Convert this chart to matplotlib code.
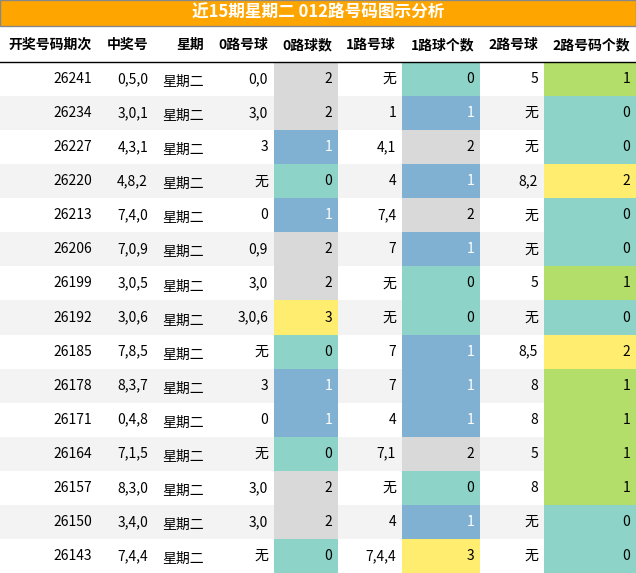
import matplotlib
matplotlib.use("Agg")
import matplotlib.pyplot as plt
from matplotlib.patches import Rectangle

plt.rcParams['font.family'] = ['Noto Sans CJK SC', 'DejaVu Sans']

title = "近15期星期二 012路号码图示分析"
headers = ["开奖号码期次", "中奖号", "星期", "0路号球", "0路球数", "1路号球", "1路球个数", "2路号球", "2路号码个数"]
periods = ["26241","26234","26227","26220","26213","26206","26199","26192","26185","26178","26171","26164","26157","26150","26143"]
numbers = ["0,5,0","3,0,1","4,3,1","4,8,2","7,4,0","7,0,9","3,0,5","3,0,6","7,8,5","8,3,7","0,4,8","7,1,5","8,3,0","3,4,0","7,4,4"]
weekday = ["星期二"] * 15
r0_balls = ["0,0","3,0","3","无","0","0,9","3,0","3,0,6","无","3","0","无","3,0","3,0","无"]
r0_cnt = [2,2,1,0,1,2,2,3,0,1,1,0,2,2,0]
r1_balls = ["无","1","4,1","4","7,4","7","无","无","7","7","4","7,1","无","4","7,4,4"]
r1_cnt = [0,1,2,1,2,1,0,0,1,1,1,2,0,1,3]
r2_balls = ["5","无","无","8,2","无","无","5","无","8,5","8","8","5","8","无","无"]
r2_cnt = [1,0,0,2,0,0,1,0,2,1,1,1,1,0,0]

cmap01 = {0: "#8DD3C7", 1: "#80B1D3", 2: "#D9D9D9", 3: "#FFED6F"}
cmap2 = {0: "#8DD3C7", 1: "#B3DE69", 2: "#FFED6F", 3: "#FFED6F"}

W, H = 636, 573
fig = plt.figure(figsize=(W/100, H/100), dpi=100)
ax = fig.add_axes([0, 0, 1, 1])
ax.set_xlim(0, W); ax.set_ylim(H, 0); ax.axis('off')

edges = [0, 98, 154, 210, 274, 338, 402, 480, 544, 636]
ax.add_patch(Rectangle((0, 0), W, 26, facecolor="#FFA500", edgecolor="#888888", lw=1))
ax.text(W/2, 13, title, ha='center', va='center', color='white', fontsize=12, fontweight='bold')

hy = 45
for i, h in enumerate(headers):
    if i == 0:
        ax.text(8, hy, h, ha='left', va='center', fontsize=10, fontweight='bold')
    else:
        ax.text(edges[i+1]-6, hy, h, ha='right', va='center', fontsize=10, fontweight='bold')
ax.plot([0, W], [62, 62], color='black', lw=1)

top = 62
rh = (H - top) / 15
for r in range(15):
    y0 = top + r*rh
    yc = y0 + rh/2
    bg = "white" if r % 2 == 0 else "#F3F3F3"
    ax.add_patch(Rectangle((0, y0), W, rh, facecolor=bg, edgecolor='none'))
    vals = [periods[r], numbers[r], weekday[r], r0_balls[r], r0_cnt[r], r1_balls[r], r1_cnt[r], r2_balls[r], r2_cnt[r]]
    for c, v in enumerate(vals):
        color = 'black'
        if c in (4, 6, 8):
            fc = (cmap2 if c == 8 else cmap01)[v]
            ax.add_patch(Rectangle((edges[c], y0), edges[c+1]-edges[c], rh, facecolor=fc, edgecolor='none'))
            if fc == "#80B1D3":
                color = 'white'
        dy = 3 if c == 2 else 0
        ax.text(edges[c+1]-6, yc+dy, str(v), ha='right', va='center', fontsize=10, color=color)

fig.savefig("out.png", dpi=100)
